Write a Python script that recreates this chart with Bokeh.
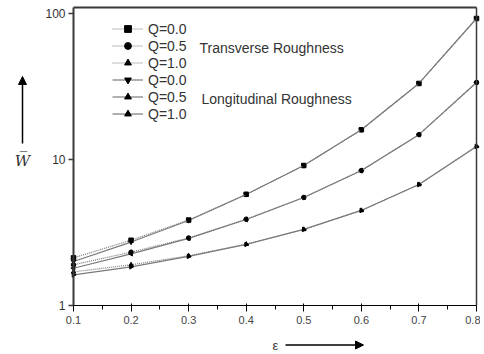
import math
from bokeh.plotting import figure
from bokeh.models import (Range1d, FixedTicker, Legend, LegendItem, Label, Arrow,
                          NormalHead, LinearAxis, LogAxis)
from bokeh.embed import file_html
from bokeh.resources import INLINE

# ---- data ----
eps = [0.1, 0.2, 0.3, 0.4, 0.5, 0.6, 0.7, 0.8]
trans_q00 = [2.12, 2.80, 3.85, 5.78, 9.1, 16.0, 33.2, 92.5]
trans_q05 = [1.90, 2.32, 2.90, 3.90, 5.5, 8.4, 14.8, 33.7]
trans_q10 = [1.70, 1.90, 2.19, 2.63, 3.32, 4.48, 6.74, 12.3]
long_q00 = [2.00, 2.72, 3.82, 5.76, 9.1, 16.0, 33.2, 92.5]
long_q05 = [1.80, 2.26, 2.88, 3.88, 5.49, 8.4, 14.8, 33.7]
long_q10 = [1.62, 1.84, 2.17, 2.62, 3.32, 4.48, 6.74, 12.3]
q_labels = ["Q=0.0", "Q=0.5", "Q=1.0"]
x_ticks = [0.1, 0.2, 0.3, 0.4, 0.5, 0.6, 0.7, 0.8]
x_minor = [0.15, 0.25, 0.35, 0.45, 0.55, 0.65, 0.75]
y_ticks = [1, 10, 100]
y_tick_labels = ["1", "10", "100"]
x_lo, x_hi = 0.1, 0.8
y_lo, y_hi = 1, 110

FONT = "Liberation Sans"
LINE = "#7a7a7a"
DARK = "#3a3a3a"

W, H = 480, 352
# plot-area placement inside the canvas (pixels): left, right, top, bottom
PL, PR, PT, PB = 73, 476, 7, 305
dx = (x_hi - x_lo) / (PR - PL)
decade = (PB - PT) / math.log10(y_hi / y_lo)
x_range = Range1d(x_lo - PL * dx, x_hi + (W - PR) * dx)
y_range = Range1d(y_lo * 10 ** (-(H - PB) / decade), y_lo * 10 ** (PB / decade))

p = figure(width=W, height=H, output_backend="svg", toolbar_location=None,
           y_axis_type="log", x_range=x_range, y_range=y_range,
           min_border=0)
p.xgrid.visible = False
p.ygrid.visible = False
p.outline_line_color = None
p.background_fill_color = "white"
p.border_fill_color = "white"

p.xaxis.fixed_location = y_lo
p.xaxis.bounds = (x_lo, x_hi)
p.yaxis.fixed_location = x_lo
p.yaxis.bounds = (y_lo, y_hi)
p.xaxis.ticker = FixedTicker(ticks=x_ticks, minor_ticks=x_minor)
p.yaxis.ticker = FixedTicker(ticks=y_ticks, minor_ticks=[])
p.yaxis.major_label_overrides = {t: l for t, l in zip(y_ticks, y_tick_labels)}

top_ax = LinearAxis(fixed_location=y_hi, bounds=(x_lo, x_hi), ticker=FixedTicker(ticks=[]),
                    major_label_text_alpha=0)
right_ax = LogAxis(fixed_location=x_hi, bounds=(y_lo, y_hi), ticker=FixedTicker(ticks=[]),
                   major_label_text_alpha=0)
p.add_layout(top_ax, "above")
p.add_layout(right_ax, "right")
for ax in (top_ax, right_ax):
    ax.axis_line_color = DARK
    ax.axis_line_width = 1.5
    ax.major_tick_line_color = None
    ax.minor_tick_line_color = None

for ax in (p.xaxis[0], p.yaxis[0]):
    ax.axis_line_color = DARK
    ax.axis_line_width = 2
    ax.major_tick_line_color = DARK
    ax.minor_tick_line_color = DARK
    ax.major_tick_line_width = 1.5
    ax.minor_tick_line_width = 1.5
    ax.major_tick_in = 0
    ax.major_tick_out = 5
    ax.minor_tick_in = 0
    ax.minor_tick_out = 3
    ax.major_label_text_font = FONT
    ax.major_label_text_font_size = "12px"
    ax.major_label_text_color = "#333333"
p.xaxis.major_label_standoff = 4
p.yaxis.major_label_standoff = 3

trans = [trans_q00, trans_q05, trans_q10]
longi = [long_q00, long_q05, long_q10]
t_markers = [("square", 0.0), ("circle", 0.0), ("triangle", 0.0)]
l_markers = [("inverted_triangle", 0.0), ("triangle", math.pi / 2), ("triangle", -math.pi / 2)]

items = []
for ys, lab, (mk, ang) in zip(trans, q_labels, t_markers):
    r1 = p.line(eps, ys, line_color=LINE, line_width=1.2, line_dash="1 1")
    r2 = p.scatter(eps, ys, marker=mk, angle=ang, size=4.5, fill_color="black", line_color="black")
    items.append(LegendItem(label=lab, renderers=[r1, r2]))
for ys, lab, (mk, ang) in zip(longi, q_labels, l_markers):
    r1 = p.line(eps, ys, line_color=LINE, line_width=1.2)
    r2 = p.scatter(eps, ys, marker=mk, angle=ang, size=4.5, fill_color="black", line_color="black")
    items.append(LegendItem(label=lab, renderers=[r1, r2]))

legend = Legend(items=items, location=(112, 230), margin=0, padding=0, spacing=0,
                glyph_width=31, glyph_height=17, label_height=17, label_standoff=5,
                label_text_font=FONT, label_text_font_size="14px", label_text_color="#333333",
                border_line_alpha=0, background_fill_alpha=0)
p.add_layout(legend)

def lab(x, y, text, **kw):
    opts = dict(x_units="screen", y_units="screen", text_font=FONT, text_font_size="14px",
                text_color="#333333", text_baseline="middle")
    opts.update(kw)
    p.add_layout(Label(x=x, y=y, text=text, **opts))

lab(199, 305, "Transverse Roughness")
lab(201, 254, "Longitudinal Roughness")
lab(22, 192, "W\u0305", text_font="DejaVu Serif", text_font_style="italic",
    text_font_size="15px", text_align="center")
lab(275, 7, "\u03b5", text_font_size="13px", text_align="center")

p.add_layout(Arrow(x_start=22, y_start=209, x_end=22, y_end=276,
                   start_units="screen", end_units="screen", line_color="black", line_width=1.5,
                   end=NormalHead(size=8, fill_color="black", line_color="black")))
p.add_layout(Arrow(x_start=285, y_start=7.5, x_end=363, y_end=7.5,
                   start_units="screen", end_units="screen", line_color="black", line_width=1.5,
                   end=NormalHead(size=8, fill_color="black", line_color="black")))

open("out.html", "w").write(file_html(p, INLINE))
